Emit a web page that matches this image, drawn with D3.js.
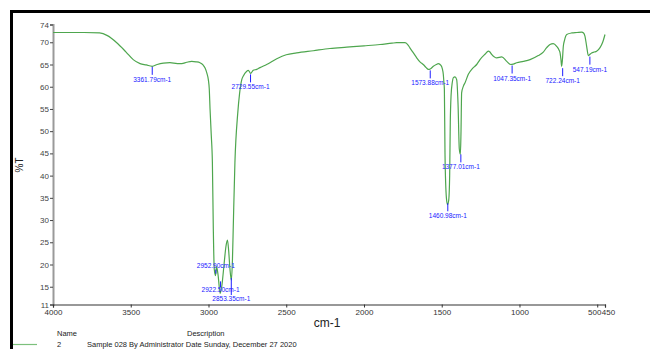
<!DOCTYPE html>
<html>
<head>
<meta charset="utf-8">
<script src="https://cdn.jsdelivr.net/npm/d3@7"></script>
<style>
  body { margin: 0; background: #fff; }
  svg { display: block; font-family: "Liberation Sans", Arial, sans-serif; }
</style>
</head>
<body>
<svg id="chart" width="650" height="349"></svg>
<script>
// spectrum (wavenumber cm-1, %T)
var wavenumbers = [4000,3800,3700,3650,3590,3530,3484,3440,3400,3362,3330,3290,3248,3200,3172,3140,3108,3080,3055,3035,3022,3010,3001,2995,2990,2982,2975,2969,2963,2955,2948,2938,2925,2915,2900,2888,2878,2870,2862,2853,2846,2841,2830,2812,2800,2786,2776,2754,2744,2729,2712,2690,2669,2626,2561,2500,2433,2326,2219,2111,2000,1897,1820,1790,1736,1715,1704,1680,1661,1640,1619,1600,1586,1574,1554,1535,1522,1505,1496,1490,1486,1483,1479,1470,1463,1455,1449,1445,1440,1432,1426,1415,1404,1395,1387,1380,1376,1372,1360,1350,1329,1300,1275,1254,1222,1200,1190,1179,1146,1114,1082,1056,1040,1018,975,932,879,847,825,804,783,761,745,739,733,729,724,718,710,696,664,630,600,588,579,568,557,547,536,520,504,482,465,450];
var transmittance = [72.2,72.2,72.1,71.5,69.9,67.8,66.1,65.2,64.9,64.6,65.0,65.3,65.4,65.2,65.2,65.5,65.7,65.6,65.4,64.9,64.2,63.0,61.6,59.5,55,49,43,28,19,17.5,19.5,17.5,13.5,15,20,24,25.5,23,19,16.5,21,28,43,54,58.5,61.6,62.4,63.5,63.7,63.0,63.7,63.9,64.3,65.0,66.3,67.2,67.6,68.1,68.6,68.9,69.2,69.5,69.8,69.9,69.9,69.3,68.7,67.5,66.5,65.6,65.0,64.3,63.9,64.0,64.6,65.0,65.2,64.8,64.0,62.8,61,59.4,45,35,33.5,34.5,40,52,58,61,62,62.2,61.6,56,46,44.8,50,58.6,60.2,60.9,62.8,64.2,65.0,66.1,67.3,68.0,67.8,67.3,66.5,66.7,65.7,65.0,65.1,65.4,65.7,66.1,67.0,67.8,68.8,69.5,69.7,69.1,68.2,67.6,66,64.6,66,69.1,70.5,71.75,72.1,72.2,72.3,72.1,71.4,69.1,67.0,67.3,67.6,67.8,68.0,68.8,70,71.75];

// peak picks
var peakWn = [3361.79, 2952.90, 2922.50, 2853.35, 2729.55, 1573.88, 1460.98, 1377.01, 1047.35, 722.24, 547.19];
var peakT = [64.7, 17.5, 13.5, 16.5, 63.0, 63.9, 34.0, 45.0, 65.0, 64.4, 67.0];

var xTicks = [4000, 3500, 3000, 2500, 2000, 1500, 1000, 500, 450];
var yTicks = [11, 15, 20, 25, 30, 35, 40, 45, 50, 55, 60, 65, 70, 74];

var legendName = "2";
var legendDesc = "Sample 028 By Administrator Date Sunday, December 27 2020";

var svg = d3.select("#chart");

// frame
svg.append("line").attr("x1", 11.5).attr("x2", 11.5).attr("y1", 10).attr("y2", 349)
  .attr("stroke", "#000").attr("stroke-width", 3);
svg.append("line").attr("x1", 10).attr("x2", 650).attr("y1", 11.5).attr("y2", 11.5)
  .attr("stroke", "#000").attr("stroke-width", 3);

var x = d3.scaleLinear().domain([4000, 450]).range([53, 605]);
var y = d3.scaleLinear().domain([11, 74]).range([304.5, 24.5]);

// y axis
var gy = svg.append("g").attr("transform", "translate(53,0)")
  .call(d3.axisLeft(y).tickValues(yTicks).tickSize(3).tickPadding(1).tickFormat(d3.format("d")));
gy.select(".domain").attr("stroke", "#9a9a9a").attr("stroke-width", 2);
gy.selectAll(".tick line").attr("stroke", "#444");
gy.selectAll(".tick text").attr("fill", "#444").style("font-size", "8px");

// x axis
var gx = svg.append("g").attr("transform", "translate(0,304.5)")
  .call(d3.axisBottom(x).tickValues(xTicks).tickSize(3).tickPadding(2).tickFormat(d3.format("d")));
gx.select(".domain").attr("stroke", "#333").attr("stroke-width", 1.2);
gx.selectAll(".tick line").attr("stroke", "#333");
gx.selectAll(".tick text").attr("fill", "#333").style("font-size", "8px");
gx.selectAll(".tick text").filter(function (d) { return d == 500; }).attr("dx", "-3");
gx.selectAll(".tick text").filter(function (d) { return d == 450; }).attr("dx", "3");

svg.append("text").attr("x", 327).attr("y", 327).attr("text-anchor", "middle")
  .style("font-size", "12px").attr("fill", "#222").text("cm-1");
svg.append("text").attr("transform", "translate(23,165)rotate(-90)").attr("text-anchor", "middle")
  .style("font-size", "10px").attr("fill", "#222").text("%T");

// spectrum
var spectrum = wavenumbers.map(function (w, i) { return { w: w, t: transmittance[i] }; });
var line = d3.line()
  .x(function (d) { return x(d.w); })
  .y(function (d) { return y(d.t); })
  .curve(d3.curveMonotoneX);
svg.append("path").datum(spectrum)
  .attr("fill", "none").attr("stroke", "#4ea64e").attr("stroke-width", 1.2)
  .attr("d", line);

// peak labels: [line start, line end, text baseline] relative to the peak
var labelDy = {
  "2952.90": [-6, -2, -8],
  "2922.50": [-12, -6, -1],
  "2853.35": [-2, 15, 21]
};
var pk = svg.append("g");
peakWn.forEach(function (w, i) {
  var txt = w.toFixed(2);
  var px = x(w), py = y(peakT[i]);
  var dy = labelDy[txt] || [1, 9, 16];
  pk.append("line").attr("x1", px).attr("x2", px)
    .attr("y1", py + dy[0]).attr("y2", py + dy[1])
    .attr("stroke", "#1f1fff").attr("stroke-width", 1);
  pk.append("text").attr("x", px).attr("y", py + dy[2]).attr("text-anchor", "middle")
    .style("font-size", "6.5px").attr("fill", "#2020ff").text(txt + "cm-1");
});

// legend
svg.append("text").attr("x", 57).attr("y", 336).style("font-size", "7.5px").attr("fill", "#222").text("Name");
svg.append("text").attr("x", 187).attr("y", 336).style("font-size", "7.5px").attr("fill", "#222").text("Description");
svg.append("line").attr("x1", 13).attr("x2", 37).attr("y1", 344.5).attr("y2", 344.5)
  .attr("stroke", "#7cc07c").attr("stroke-width", 1.2);
svg.append("text").attr("x", 57).attr("y", 347).style("font-size", "7.5px").attr("fill", "#222").text(legendName);
svg.append("text").attr("x", 87).attr("y", 347).style("font-size", "7.5px").attr("fill", "#222").text(legendDesc);
</script>
</body>
</html>
